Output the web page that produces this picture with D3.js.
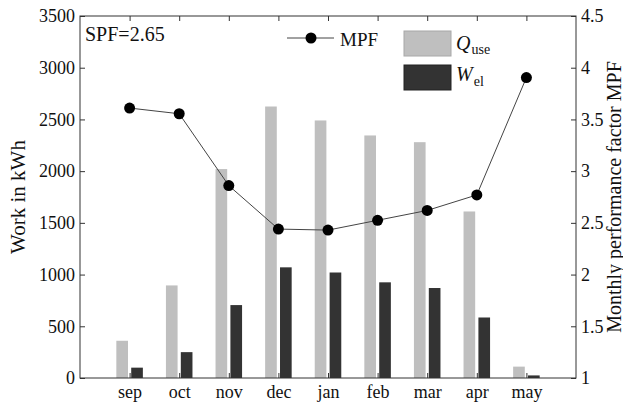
<!DOCTYPE html>
<html>
<head>
<meta charset="utf-8">
<script src="https://cdn.jsdelivr.net/npm/d3@7/dist/d3.min.js"></script>
</head>
<body style="margin:0;background:#fff;font-family:'Liberation Serif'">
<div id="wrap" style="font-family:'Liberation Serif'"></div>
<script>
// Monthly heat-pump energy balance
const months = ["sep", "oct", "nov", "dec", "jan", "feb", "mar", "apr", "may"];
const qUse   = [360, 895, 2020, 2625, 2490, 2345, 2280, 1610, 110];   // kWh
const wEl    = [100, 250, 705, 1070, 1020, 925, 870, 585, 25];       // kWh
const mpf    = [3.61, 3.555, 2.86, 2.44, 2.43, 2.525, 2.62, 2.77, 3.905];
const spf    = 2.65;
const leftTicks  = [0, 500, 1000, 1500, 2000, 2500, 3000, 3500];
const rightTicks = [1, 1.5, 2, 2.5, 3, 3.5, 4, 4.5];

const FONT = "Liberation Serif";

const svg = d3.select("#wrap").append("svg")
  .attr("width", 623).attr("height", 405)
  .attr("font-family", FONT)
  .style("display", "block");
const plot = { left: 80, right: 576, top: 16, bottom: 378 };

const x  = d3.scaleLinear().domain([0, months.length + 1]).range([plot.left, plot.right]);
const yL = d3.scaleLinear().domain([0, 3500]).range([plot.bottom, plot.top]);
const yR = d3.scaleLinear().domain([1, 4.5]).range([plot.bottom, plot.top]);

const barW = 0.235;   // bar width in category units
const barOff = 0.15;  // offset of each bar centre from the month position

// bars
const gBars = svg.append("g");
gBars.selectAll("rect.q").data(qUse).join("rect")
  .attr("class", "q")
  .attr("x", (d, i) => x(i + 1 - barOff - barW / 2))
  .attr("width", x(barW) - x(0))
  .attr("y", d => yL(d))
  .attr("height", d => yL(0) - yL(d))
  .attr("fill", "#bfbfbf");
gBars.selectAll("rect.w").data(wEl).join("rect")
  .attr("class", "w")
  .attr("x", (d, i) => x(i + 1 + barOff - barW / 2))
  .attr("width", x(barW) - x(0))
  .attr("y", d => yL(d))
  .attr("height", d => yL(0) - yL(d))
  .attr("fill", "#333333");

// axes with inward ticks
const tickStyle = g => {
  g.attr("font-family", FONT).attr("font-size", 18);
  g.select(".domain").remove();
  g.selectAll("line").attr("stroke", "#333");
};
const fmt = d => String(d);

svg.append("g").attr("transform", `translate(${plot.left},0)`)
  .call(d3.axisLeft(yL).tickValues(leftTicks).tickSize(-5).tickPadding(5).tickFormat(fmt))
  .call(tickStyle);
svg.append("g").attr("transform", `translate(${plot.right},0)`)
  .call(d3.axisRight(yR).tickValues(rightTicks).tickSize(-5).tickPadding(5).tickFormat(fmt))
  .call(tickStyle);
svg.append("g").attr("transform", `translate(0,${plot.bottom})`)
  .call(d3.axisBottom(x).tickValues(d3.range(1, months.length + 1)).tickSize(-5).tickPadding(7)
    .tickFormat(d => months[d - 1]))
  .call(tickStyle);
svg.append("g").attr("transform", `translate(0,${plot.top})`)
  .call(d3.axisTop(x).tickValues(d3.range(1, months.length + 1)).tickSize(-5).tickFormat(() => ""))
  .call(tickStyle);

// frame
svg.append("rect")
  .attr("x", plot.left).attr("y", plot.top)
  .attr("width", plot.right - plot.left).attr("height", plot.bottom - plot.top)
  .attr("fill", "none").attr("stroke", "#333").attr("stroke-width", 1);

// MPF line
const line = d3.line().x((d, i) => x(i + 1)).y(d => yR(d));
svg.append("path").datum(mpf)
  .attr("d", line).attr("fill", "none").attr("stroke", "#444").attr("stroke-width", 1);
svg.selectAll("circle.mpf").data(mpf).join("circle")
  .attr("class", "mpf")
  .attr("cx", (d, i) => x(i + 1)).attr("cy", d => yR(d))
  .attr("r", 5.5).attr("fill", "#000");

// axis titles
svg.append("text")
  .attr("transform", `translate(25,${(plot.top + plot.bottom) / 2}) rotate(-90)`)
  .attr("text-anchor", "middle").attr("font-size", 21)
  .text("Work in kWh");
svg.append("text")
  .attr("transform", `translate(621,${(plot.top + plot.bottom) / 2}) rotate(-90)`)
  .attr("text-anchor", "middle").attr("font-size", 20)
  .text("Monthly performance factor MPF");

// SPF annotation
svg.append("text").attr("x", 85).attr("y", 41).attr("font-size", 20)
  .text("SPF=" + spf.toFixed(2));

// legend
const lg = svg.append("g");
lg.append("line").attr("x1", 287).attr("x2", 334).attr("y1", 38).attr("y2", 38)
  .attr("stroke", "#444").attr("stroke-width", 1);
lg.append("circle").attr("cx", 311).attr("cy", 38).attr("r", 5.5).attr("fill", "#000");
lg.append("text").attr("x", 340).attr("y", 46).attr("font-size", 19).text("MPF");

lg.append("rect").attr("x", 404).attr("y", 31).attr("width", 47).attr("height", 25)
  .attr("fill", "#bfbfbf").attr("stroke", "#a8a8a8").attr("stroke-width", 1);
lg.append("rect").attr("x", 404).attr("y", 65).attr("width", 47).attr("height", 25)
  .attr("fill", "#333333").attr("stroke", "#222").attr("stroke-width", 1);

const q = lg.append("text").attr("x", 456).attr("y", 50).attr("font-size", 20);
q.append("tspan").attr("font-style", "italic").text("Q");
q.append("tspan").attr("dy", 3.5).attr("dx", 1).attr("font-size", 14).text("use");
const w = lg.append("text").attr("x", 456).attr("y", 81).attr("font-size", 20);
w.append("tspan").attr("font-style", "italic").text("W");
w.append("tspan").attr("dy", 5).attr("dx", 1).attr("font-size", 14).text("el");

// one serif face for every label
svg.selectAll("text").attr("font-family", FONT).attr("fill", "#111");
</script>
</body>
</html>
